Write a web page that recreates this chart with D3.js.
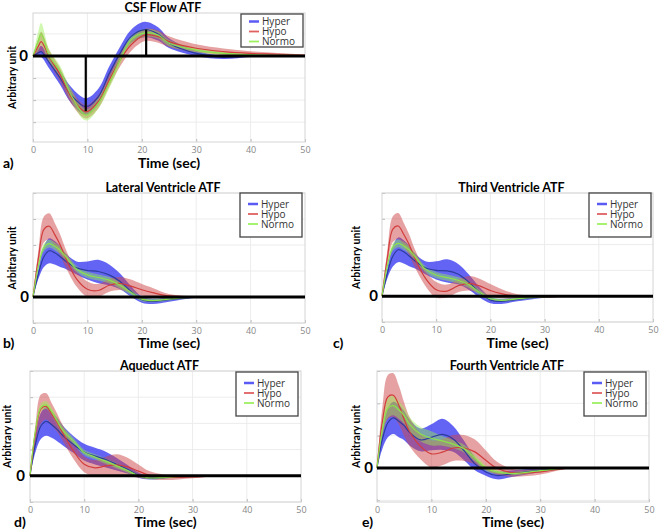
<!doctype html>
<html>
<head>
<script src="https://d3js.org/d3.v7.min.js"></script>
<style>
  body, html { margin: 0; padding: 0; overflow: hidden; background: #fff; }
  text { font-family: "Open Sans", sans-serif; }
  .bold { font-family: Lato, "Open Sans", sans-serif; font-weight: bold; }
</style>
</head>
<body>
<script>
const groups = ["Hyper", "Hypo", "Normo"];
const xTicks = [0, 10, 20, 30, 40, 50];

// a) CSF flow
const tA = [0, 1, 1.5, 3, 5, 7, 9.7, 12, 14, 16, 18, 20.5, 23, 25, 30, 35, 40, 45, 50];
const aHyper   = [0, 0.15, 0.2, -0.3, -1.0, -1.77, -2.3, -1.85, -0.8, 0.12, 0.88, 1.2, 1.0, 0.58, 0.12, -0.06, 0, 0, 0];
const aHyperSd = [0, 0.2, 0.25, 0.28, 0.32, 0.36, 0.38, 0.36, 0.32, 0.3, 0.3, 0.35, 0.3, 0.22, 0.12, 0.08, 0.05, 0.03, 0.02];
const aHypo    = [0, 0.45, 0.65, -0.05, -0.86, -1.85, -2.53, -2.07, -1.1, -0.18, 0.5, 0.95, 0.88, 0.65, 0.35, 0.2, 0.12, 0.08, 0.03];
const aHypoSd  = [0, 0.35, 0.45, 0.3, 0.3, 0.3, 0.3, 0.3, 0.3, 0.3, 0.28, 0.28, 0.28, 0.24, 0.18, 0.14, 0.1, 0.06, 0.04];
const aNormo   = [0, 0.7, 1.0, 0.0, -0.7, -1.77, -2.68, -2.15, -1.24, -0.18, 0.73, 1.05, 0.95, 0.58, 0.27, 0.12, 0.06, 0.03, 0.02];
const aNormoSd = [0, 0.45, 0.5, 0.3, 0.25, 0.25, 0.25, 0.25, 0.25, 0.22, 0.18, 0.18, 0.16, 0.14, 0.1, 0.06, 0.04, 0.03, 0.02];
const aMarkers = [[9.7, -2.5], [20.8, 1.2]];

// shared time grid for b) - e)
const tV = [0, 1, 2, 3, 4, 5, 6, 8, 10, 12, 14, 16, 18, 20, 22, 25, 30, 35, 40, 50];

// b) Lateral ventricle
const bHyper   = [0, 0.9, 1.55, 1.78, 1.7, 1.55, 1.38, 1.12, 1.02, 0.98, 0.85, 0.6, 0.22, -0.1, -0.17, -0.1, 0, 0, 0, 0];
const bHyperSd = [0, 0.2, 0.4, 0.48, 0.45, 0.4, 0.3, 0.25, 0.35, 0.45, 0.4, 0.3, 0.2, 0.12, 0.1, 0.08, 0.03, 0.02, 0.02, 0.02];
const bHypo    = [0, 1.5, 2.6, 2.72, 2.4, 2.0, 1.5, 0.7, 0.3, 0.25, 0.45, 0.52, 0.42, 0.28, 0.17, 0.04, 0, 0, 0, 0];
const bHypoSd  = [0, 0.3, 0.5, 0.5, 0.45, 0.4, 0.35, 0.3, 0.3, 0.25, 0.25, 0.25, 0.25, 0.22, 0.18, 0.08, 0.03, 0.02, 0.02, 0.02];
const bNormo   = [0, 1.2, 1.9, 2.05, 1.95, 1.8, 1.55, 1.08, 0.85, 0.75, 0.65, 0.45, 0.18, -0.08, -0.14, -0.08, 0, 0, 0, 0];
const bNormoSd = [0, 0.1, 0.15, 0.15, 0.15, 0.14, 0.13, 0.12, 0.12, 0.12, 0.12, 0.12, 0.1, 0.08, 0.06, 0.05, 0.03, 0.02, 0.02, 0.02];

// c) Third ventricle
const cHyper   = [0, 0.9, 1.55, 1.8, 1.72, 1.56, 1.38, 1.1, 1.0, 0.98, 0.86, 0.55, 0.15, -0.15, -0.2, -0.12, -0.02, 0, 0, 0];
const cHyperSd = [0, 0.2, 0.4, 0.48, 0.45, 0.4, 0.3, 0.25, 0.35, 0.45, 0.4, 0.3, 0.2, 0.12, 0.1, 0.08, 0.04, 0.02, 0.02, 0.02];
const cHypo    = [0, 1.5, 2.6, 2.72, 2.4, 2.0, 1.5, 0.7, 0.25, 0.2, 0.4, 0.5, 0.4, 0.22, 0.1, 0.0, -0.02, 0, 0, 0];
const cHypoSd  = [0, 0.3, 0.5, 0.5, 0.45, 0.4, 0.35, 0.3, 0.3, 0.25, 0.25, 0.28, 0.28, 0.25, 0.18, 0.08, 0.04, 0.02, 0.02, 0.02];
const cNormo   = [0, 1.2, 1.9, 2.05, 1.95, 1.8, 1.55, 1.05, 0.82, 0.72, 0.62, 0.45, 0.15, -0.1, -0.16, -0.1, -0.02, 0, 0, 0];
const cNormoSd = [0, 0.1, 0.15, 0.15, 0.15, 0.14, 0.13, 0.12, 0.12, 0.12, 0.12, 0.12, 0.1, 0.08, 0.06, 0.05, 0.03, 0.02, 0.02, 0.02];

// d) Aqueduct
const dHyper   = [0, 1.2, 1.9, 2.08, 1.95, 1.77, 1.55, 1.2, 0.9, 0.75, 0.62, 0.44, 0.25, 0.03, -0.08, -0.06, 0, 0, 0, 0];
const dHyperSd = [0, 0.3, 0.5, 0.55, 0.5, 0.45, 0.38, 0.32, 0.32, 0.32, 0.3, 0.24, 0.16, 0.1, 0.06, 0.04, 0.02, 0.02, 0.02, 0.02];
const dHypo    = [0, 1.6, 2.55, 2.65, 2.35, 2.03, 1.65, 0.95, 0.44, 0.3, 0.38, 0.42, 0.34, 0.18, 0.03, -0.06, -0.04, 0, 0, 0];
const dHypoSd  = [0, 0.35, 0.55, 0.5, 0.42, 0.35, 0.3, 0.3, 0.3, 0.3, 0.35, 0.4, 0.35, 0.25, 0.15, 0.1, 0.05, 0.02, 0.02, 0.02];
const dNormo   = [0, 1.7, 2.6, 2.7, 2.45, 2.09, 1.75, 1.33, 0.89, 0.72, 0.55, 0.38, 0.2, 0.0, -0.08, -0.06, 0, 0, 0, 0];
const dNormoSd = [0, 0.12, 0.15, 0.15, 0.15, 0.15, 0.15, 0.12, 0.1, 0.1, 0.1, 0.1, 0.08, 0.06, 0.05, 0.04, 0.02, 0.02, 0.02, 0.02];

// e) Fourth ventricle
const eHyper   = [0, 0.9, 1.4, 1.55, 1.45, 1.31, 1.1, 0.87, 0.95, 1.04, 0.9, 0.54, 0.13, -0.12, -0.23, -0.17, -0.07, 0, 0, 0];
const eHyperSd = [0, 0.3, 0.45, 0.5, 0.5, 0.45, 0.4, 0.35, 0.4, 0.48, 0.4, 0.3, 0.2, 0.12, 0.12, 0.1, 0.06, 0.02, 0.02, 0.02];
const eHypo    = [0, 1.45, 2.2, 2.25, 1.95, 1.5, 1.12, 0.67, 0.44, 0.49, 0.62, 0.62, 0.5, 0.24, 0.0, -0.15, -0.12, 0, 0, 0];
const eHypoSd  = [0, 0.45, 0.68, 0.68, 0.6, 0.52, 0.45, 0.4, 0.42, 0.4, 0.4, 0.4, 0.38, 0.3, 0.2, 0.12, 0.08, 0.02, 0.02, 0.02];
const eNormo   = [0, 1.2, 1.85, 1.93, 1.8, 1.62, 1.35, 1.05, 0.92, 0.84, 0.74, 0.6, 0.3, 0.0, -0.12, -0.17, -0.08, 0, 0, 0];
const eNormoSd = [0, 0.2, 0.3, 0.3, 0.28, 0.25, 0.22, 0.22, 0.22, 0.15, 0.12, 0.12, 0.1, 0.08, 0.06, 0.05, 0.04, 0.02, 0.02, 0.02];

const panels = [
  { label: "a)", title: "CSF Flow ATF", t: tA, y: [-3.9, 1.95], box: [33, 13, 305, 142],
    mean: [aHyper, aHypo, aNormo], sd: [aHyperSd, aHypoSd, aNormoSd], markers: aMarkers,
    legend: [241, 14, 33], labelX: 3, yLabX: 12, zeroX: 28, xTitleY: 168 },
  { label: "b)", title: "Lateral Ventricle ATF", t: tV, y: [-1, 4], box: [33, 193, 305, 323],
    mean: [bHyper, bHypo, bNormo], sd: [bHyperSd, bHypoSd, bNormoSd],
    legend: [240, 193, 44], labelX: 3, yLabX: 12, zeroX: 29, xTitleY: 348 },
  { label: "c)", title: "Third Ventricle ATF", t: tV, y: [-1, 4], box: [382, 193, 653, 322],
    mean: [cHyper, cHypo, cNormo], sd: [cHyperSd, cHypoSd, cNormoSd],
    legend: [589, 193, 44], labelX: 333, yLabX: 356, zeroX: 378, xTitleY: 348 },
  { label: "d)", title: "Aqueduct ATF", t: tV, y: [-1, 4], box: [30, 371, 301, 502],
    mean: [dHyper, dHypo, dNormo], sd: [dHyperSd, dHypoSd, dNormoSd],
    legend: [236, 372, 44], labelX: 14, yLabX: 7, zeroX: 25, xTitleY: 527 },
  { label: "e)", title: "Fourth Ventricle ATF", t: tV, y: [-1.05, 3], box: [377, 371, 649, 502],
    mean: [eHyper, eHypo, eNormo], sd: [eHyperSd, eHypoSd, eNormoSd],
    legend: [584, 372, 44], labelX: 362, yLabX: 356, zeroX: 373, xTitleY: 527 }
];

const bandColor = ["rgba(40,40,240,0.72)", "rgba(205,70,70,0.5)", "rgba(150,240,80,0.45)"];
const lineColor = ["#2b3d9c", "#d23c3c", "#8be24c"];
const legendColor = ["#5a5af5", "#e06060", "#9ef060"];

const W = 659, H = 529;
const svg = d3.create("svg").attr("width", W).attr("height", H);

panels.forEach((p) => {
  const [x0, y0, x1, y1] = p.box;
  const x = d3.scaleLinear().domain([0, 50]).range([x0, x1]);
  const y = d3.scaleLinear().domain(p.y).range([y1, y0]);
  const g = svg.append("g");

  // grid
  const yGrid = d3.range(Math.ceil(p.y[0]), Math.floor(p.y[1]) + 1);
  g.append("g").selectAll("line").data(yGrid).join("line")
    .attr("x1", x0).attr("x2", x1)
    .attr("y1", (d) => y(d)).attr("y2", (d) => y(d))
    .attr("stroke", "#ececec").attr("stroke-width", 1);
  g.append("g").selectAll("line").data(xTicks.slice(1, -1)).join("line")
    .attr("x1", (d) => x(d)).attr("x2", (d) => x(d))
    .attr("y1", y0).attr("y2", y1)
    .attr("stroke", "#ececec").attr("stroke-width", 1);

  // x axis ticks
  const ax = g.append("g").attr("transform", `translate(0,${y1})`)
    .call(d3.axisBottom(x).tickValues(xTicks).tickSize(-3).tickPadding(5));
  ax.select(".domain").remove();
  ax.selectAll("line").attr("stroke", "#bbb");
  ax.selectAll("text").attr("fill", "#888").style("font-size", "9px")
    .style("font-family", "'Open Sans', sans-serif");

  // y axis (ticks only)
  const ay = g.append("g").attr("transform", `translate(${x0},0)`)
    .call(d3.axisLeft(y).tickValues(yGrid).tickSize(-3).tickFormat(""));
  ay.select(".domain").remove();
  ay.selectAll("line").attr("stroke", "#bbb");

  // box
  g.append("rect").attr("x", x0).attr("y", y0)
    .attr("width", x1 - x0).attr("height", y1 - y0)
    .attr("fill", "none").attr("stroke", "#d4d4d4").attr("stroke-width", 1);

  const rows = (k) => p.t.map((t, i) => ({ t, m: p.mean[k][i], s: p.sd[k][i] }));
  const curve = d3.curveCatmullRom.alpha(0.5);
  const area = d3.area().curve(curve)
    .x((d) => x(d.t)).y0((d) => y(d.m - d.s)).y1((d) => y(d.m + d.s));
  const line = d3.line().curve(curve).x((d) => x(d.t)).y((d) => y(d.m));

  groups.forEach((name, k) => {
    g.append("path").datum(rows(k)).attr("d", area)
      .attr("fill", bandColor[k]).attr("stroke", "none");
  });
  groups.forEach((name, k) => {
    g.append("path").datum(rows(k)).attr("d", line)
      .attr("fill", "none").attr("stroke", lineColor[k]).attr("stroke-width", 1.2);
  });

  // zero line
  g.append("line").attr("x1", x(0)).attr("x2", x(50))
    .attr("y1", y(0)).attr("y2", y(0))
    .attr("stroke", "#000").attr("stroke-width", 3);

  if (p.markers) {
    g.append("g").selectAll("line").data(p.markers).join("line")
      .attr("x1", (d) => x(d[0])).attr("x2", (d) => x(d[0]))
      .attr("y1", y(0)).attr("y2", (d) => y(d[1]))
      .attr("stroke", "#000").attr("stroke-width", 2.2);
  }

  // legend
  const [lx, ly, lh] = p.legend;
  const lg = g.append("g").attr("transform", `translate(${lx},${ly})`);
  lg.append("rect").attr("width", 62).attr("height", lh)
    .attr("fill", "#fff").attr("stroke", "#444").attr("stroke-width", 1.3);
  const off = lh > 40 ? 11 : 7.5;
  groups.forEach((name, k) => {
    lg.append("line").attr("x1", 8).attr("x2", 18)
      .attr("y1", off + k * 10).attr("y2", off + k * 10)
      .attr("stroke", legendColor[k]).attr("stroke-width", k === 0 ? 2.5 : 1.8);
    lg.append("text").attr("x", 21).attr("y", off + k * 10 + 3.5)
      .attr("fill", "#333").style("font-size", "10px").text(name);
  });

  // texts
  const cx = (x0 + x1) / 2;
  g.append("text").attr("class", "bold").attr("x", cx - 6).attr("y", y0 - 1)
    .attr("text-anchor", "middle").style("font-size", "12.5px").text(p.title);
  g.append("text").attr("class", "bold").attr("x", cx).attr("y", p.xTitleY)
    .attr("text-anchor", "middle").style("font-size", "14px").text("Time (sec)");
  g.append("text").attr("class", "bold").attr("x", p.labelX).attr("y", p.xTitleY)
    .style("font-size", "14px").text(p.label);
  g.append("text").attr("class", "bold").attr("x", p.zeroX).attr("y", y(0) + 5)
    .attr("text-anchor", "end").style("font-size", "15px").text("0");
  g.append("text").attr("class", "bold")
    .attr("transform", `translate(${p.yLabX + 4},${(y0 + y1) / 2}) rotate(-90)`)
    .attr("text-anchor", "middle").style("font-size", "10.5px").text("Arbitrary unit");
});

document.body.appendChild(svg.node());
</script>
</body>
</html>
